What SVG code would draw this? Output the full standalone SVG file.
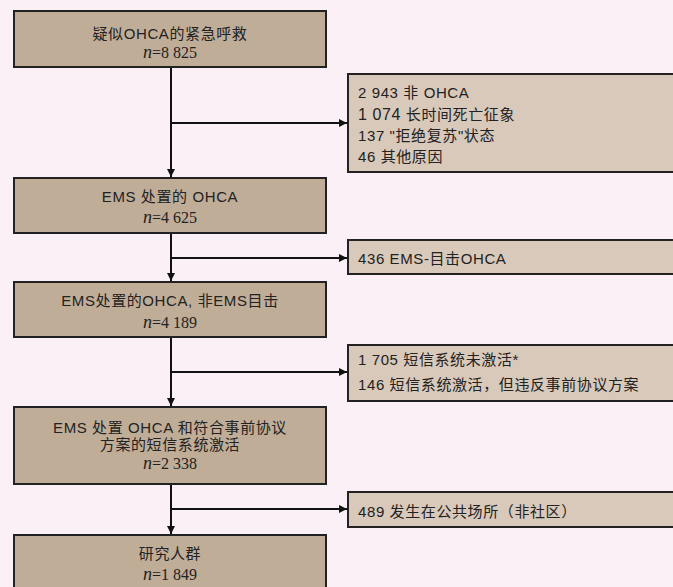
<svg xmlns="http://www.w3.org/2000/svg" width="673" height="587" viewBox="0 0 673 587">
<defs>
<style>
.main{fill:#c0ad98;stroke:#222;stroke-width:2}
.side{fill:#d9c9ba;stroke:#222;stroke-width:2}
text{font-family:"Liberation Sans","Noto Sans CJK SC",sans-serif;font-size:15px;fill:#222;letter-spacing:0.6px}
.c{text-anchor:middle}
.n{font-family:"Liberation Serif","Noto Sans CJK SC",serif;font-size:16px;letter-spacing:0}
.i{font-style:italic;font-size:18px}
.ln{stroke:#111;stroke-width:2;fill:none}
</style>
<marker id="ah" markerWidth="8" markerHeight="8" refX="8" refY="4" orient="auto" markerUnits="userSpaceOnUse">
<path d="M0,0 L8,4 L0,8 Z" fill="#111"/>
</marker>
</defs>
<rect width="673" height="587" fill="#fbf0f6"/>
<g id="connectors">
<line class="ln" x1="171" y1="67" x2="171" y2="177" marker-end="url(#ah)"/>
<line class="ln" x1="171" y1="123" x2="347" y2="123" marker-end="url(#ah)"/>
<line class="ln" x1="171" y1="234" x2="171" y2="281" marker-end="url(#ah)"/>
<line class="ln" x1="171" y1="258" x2="347" y2="258" marker-end="url(#ah)"/>
<line class="ln" x1="171" y1="338" x2="171" y2="406" marker-end="url(#ah)"/>
<line class="ln" x1="171" y1="372" x2="347" y2="372" marker-end="url(#ah)"/>
<line class="ln" x1="171" y1="485" x2="171" y2="534" marker-end="url(#ah)"/>
<line class="ln" x1="171" y1="509" x2="347" y2="509" marker-end="url(#ah)"/>
</g>
<g id="n1">
<rect class="main" x="14" y="11" width="312" height="56"/>
<text class="c" x="170" y="39">疑似OHCA的紧急呼救</text>
<text class="c n" x="170" y="58"><tspan class="i">n</tspan>=8 825</text>
</g>
<g id="s1">
<rect class="side" x="348" y="74" width="330" height="98"/>
<text x="358" y="98">2 943 非 OHCA</text>
<text x="358" y="120"><tspan font-size="16">1 074</tspan> 长时间死亡征象</text>
<text x="358" y="141">137 "拒绝复苏"状态</text>
<text x="358" y="162">46 其他原因</text>
</g>
<g id="n2">
<rect class="main" x="14" y="178" width="312" height="55"/>
<text class="c" x="170" y="202">EMS 处置的 OHCA</text>
<text class="c n" x="170" y="223"><tspan class="i">n</tspan>=4 625</text>
</g>
<g id="s2">
<rect class="side" x="348" y="240" width="330" height="34"/>
<text x="358" y="264">436 EMS-目击OHCA</text>
</g>
<g id="n3">
<rect class="main" x="14" y="282" width="312" height="55"/>
<text class="c" x="170" y="306">EMS处置的OHCA, 非EMS目击</text>
<text class="c n" x="170" y="328"><tspan class="i">n</tspan>=4 189</text>
</g>
<g id="s3">
<rect class="side" x="348" y="345" width="330" height="56"/>
<text x="358" y="365">1 705 短信系统未激活*</text>
<text x="358" y="390">146 短信系统激活，但违反事前协议方案</text>
</g>
<g id="n4">
<rect class="main" x="14" y="407" width="312" height="77"/>
<text class="c" x="170" y="433">EMS 处置 OHCA 和符合事前协议</text>
<text class="c" x="170" y="450">方案的短信系统激活</text>
<text class="c n" x="170" y="469"><tspan class="i">n</tspan>=2 338</text>
</g>
<g id="s4">
<rect class="side" x="348" y="492" width="330" height="35"/>
<text x="358" y="517">489 发生在公共场所（非社区）</text>
</g>
<g id="n5">
<rect class="main" x="14" y="535" width="312" height="60"/>
<text class="c" x="170" y="559">研究人群</text>
<text class="c n" x="170" y="580"><tspan class="i">n</tspan>=1 849</text>
</g>
</svg>
